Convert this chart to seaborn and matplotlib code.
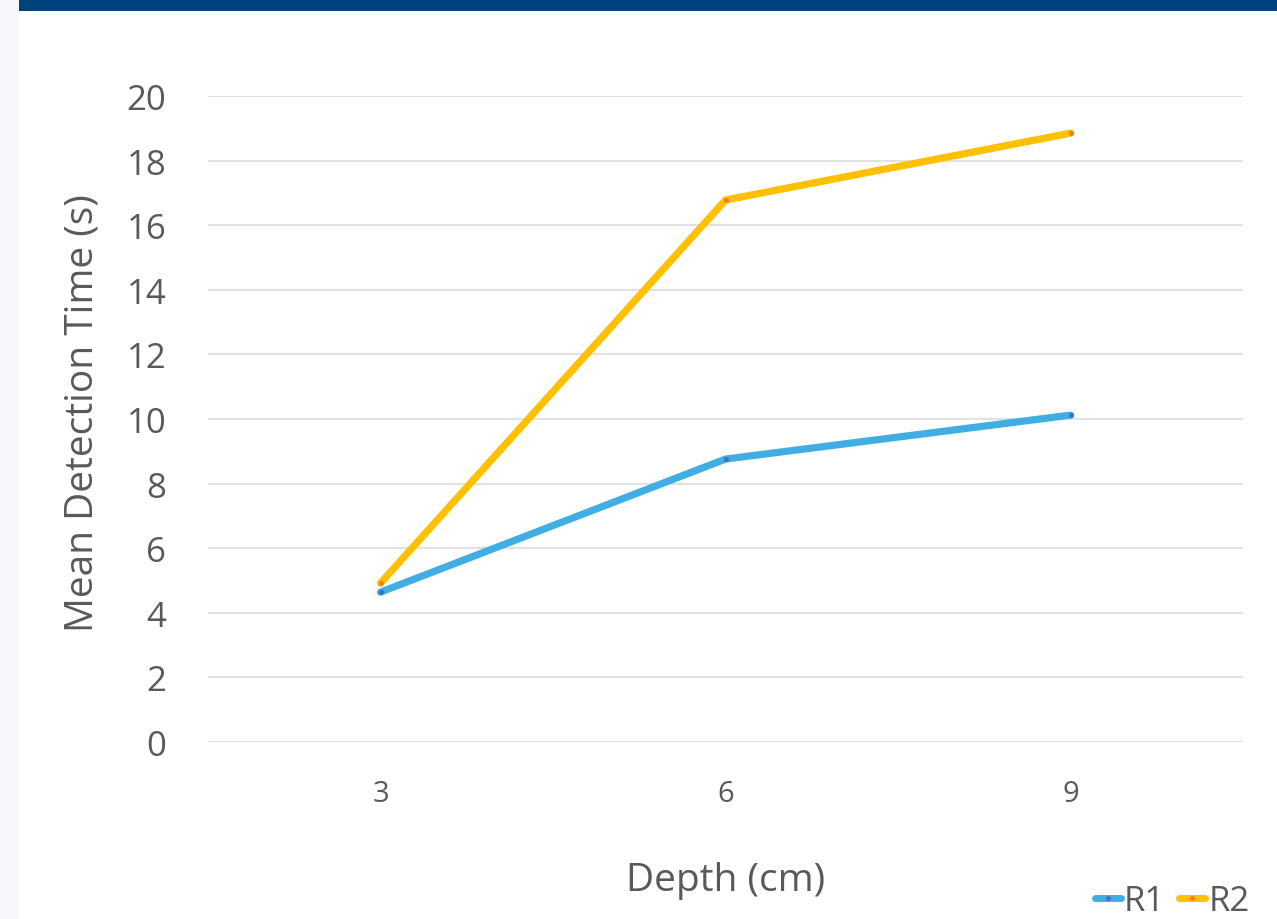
import matplotlib
matplotlib.use("Agg")
import matplotlib.pyplot as plt
from matplotlib.patches import Rectangle
from matplotlib.lines import Line2D
import seaborn as sns
import pandas as pd

depths = ["3", "6", "9"]
r1_times = [4.64, 8.76, 10.12]
r2_times = [4.92, 16.78, 18.85]
series_names = ["R1", "R2"]
y_ticks = [0, 2, 4, 6, 8, 10, 12, 14, 16, 18, 20]

line_colors = {"R1": "#41aee3", "R2": "#ffc000"}
dot_colors = {"R1": "#3f6fc2", "R2": "#ed7d31"}

df = pd.DataFrame({
    "Depth": depths * 2,
    "Time": r1_times + r2_times,
    "Series": [series_names[0]] * 3 + [series_names[1]] * 3,
})

sns.set_theme(style="white")
plt.rcParams["font.family"] = ["Open Sans", "DejaVu Sans"]
text_gray = "#595959"

fig = plt.figure(figsize=(12.77, 9.2), dpi=100)
fig.patch.set_facecolor("white")

# page decorations: pale side strip and navy header band
fig.add_artist(Rectangle((0, 0), 19 / 1277, 1, transform=fig.transFigure,
                         facecolor="#f6f8fb", edgecolor="none", zorder=0))
fig.add_artist(Rectangle((19 / 1277, 1 - 12 / 920), 1, 12 / 920,
                         transform=fig.transFigure, facecolor="#00427e",
                         edgecolor="none", zorder=0))

ax = fig.add_axes([208 / 1277, 1 - 743 / 920, (1243 - 208) / 1277, (743 - 97) / 920])
ax.set_facecolor("none")

sns.lineplot(data=df, x="Depth", y="Time", hue="Series", palette=line_colors,
             linewidth=5.2, ax=ax, legend=False, sort=False, solid_capstyle="round")
for name in series_names:
    sub = df[df["Series"] == name]
    sns.scatterplot(data=sub, x="Depth", y="Time", color=dot_colors[name],
                    s=14, linewidth=0, ax=ax, legend=False, zorder=5)

ax.set_xlim(-0.5, 2.5)
ax.set_ylim(0, 20)
ax.set_yticks(y_ticks)
ax.grid(axis="y", color="#d9d9d9", linewidth=1.1)
ax.grid(axis="x", visible=False)
ax.set_axisbelow(True)
for s in ax.spines.values():
    s.set_visible(False)
ax.tick_params(axis="y", labelsize=25, colors=text_gray, pad=30, length=0)
ax.tick_params(axis="x", labelsize=21, colors=text_gray, pad=27, length=0)

ax.set_ylabel("Mean Detection Time (s)", fontsize=28, color=text_gray)
ax.yaxis.set_label_coords(-0.103, 0.51)
ax.set_xlabel("Depth (cm)", fontsize=28, color=text_gray, labelpad=38)

handles = [
    Line2D([0], [0], color=line_colors[n], linewidth=5, solid_capstyle="round",
           marker="o", markersize=3.5, markerfacecolor=dot_colors[n],
           markeredgewidth=0)
    for n in series_names
]
fig.legend(handles, series_names, loc="center right", ncol=2,
           bbox_to_anchor=(1250 / 1277, 1 - 902 / 920), frameon=False,
           fontsize=25, labelcolor=text_gray, handlelength=0.75,
           handletextpad=0.1, columnspacing=0.4, borderpad=0, borderaxespad=0)

fig.savefig("out.png", dpi=100)
